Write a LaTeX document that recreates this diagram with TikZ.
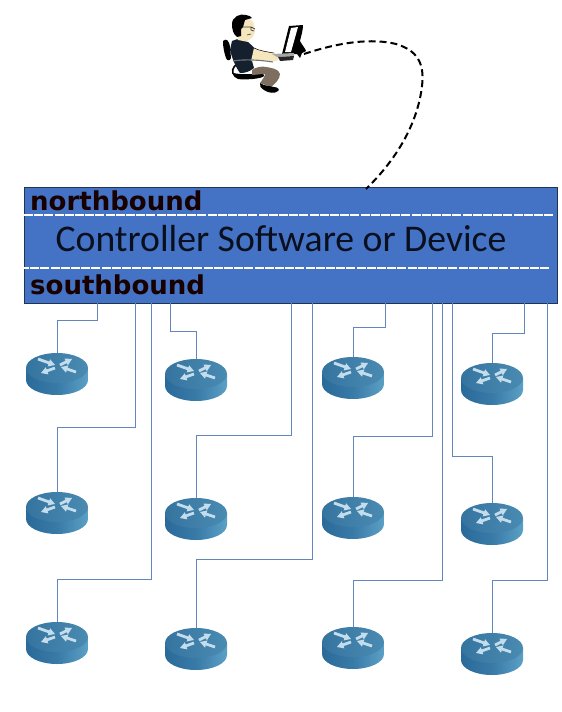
\documentclass[tikz,border=0pt]{standalone}
\usepackage{fontspec}
\setmainfont{Carlito}
\newfontfamily\labelfont{DejaVu Sans}
\usetikzlibrary{calc}
\definecolor{ctrlblue}{HTML}{4472C4}
\definecolor{ctrledge}{HTML}{1F3552}
\definecolor{linkblue}{HTML}{6386BC}
\definecolor{titleink}{HTML}{0A0F1E}
\definecolor{rtopL}{HTML}{35749F}
\definecolor{rtopR}{HTML}{4A8BB2}
\definecolor{rsideL}{HTML}{2A6A9A}
\definecolor{rsideR}{HTML}{5BA0C6}
\definecolor{rarrow}{HTML}{C4DDEC}
\definecolor{skin}{HTML}{F5E6BE}
\definecolor{shirt}{HTML}{14202E}
\definecolor{trousers}{HTML}{7D6E60}
\tikzset{
  x=1pt,y=-1pt,
  link/.style={draw=linkblue,line width=0.9pt},
  routerbox/.style={minimum width=62pt,minimum height=42pt,inner sep=0pt,outer sep=0pt},
  northlabel/.style={font=\labelfont\bfseries\fontsize{26}{28}\selectfont,text=black!90!red,inner sep=0pt,anchor=base west},
  sepline/.style={draw=white,line width=1.3pt,dash pattern=on 9pt off 1.2pt},
}
% One arrow on a router's top face, from tail to head
\newcommand{\facearrow}[4]{%
  \coordinate (t) at (#1,#2);
  \coordinate (h) at (#3,#4);
  \coordinate (n) at ($(h)!6.5pt!(t)$);
  \fill[rarrow] ($(t)!1.4pt!90:(h)$) -- ($(n)!1.4pt!-90:(t)$) -- ($(n)!3.8pt!-90:(t)$) -- (h)
    -- ($(n)!3.8pt!90:(t)$) -- ($(n)!1.4pt!90:(t)$) -- ($(t)!1.4pt!-90:(h)$) -- cycle;
}
% A router: a flat cylinder with four arrows on its top face
\newcommand{\routerat}[3]{%
  \node[routerbox] (#1) at (#2,#3) {};
  \begin{scope}[shift={(#2,#3)}]
    \path[left color=rsideL,right color=rsideR,middle color=rsideL!70!rsideR]
      (-31,-6) -- (-31,6) arc[start angle=180,end angle=0,x radius=31,y radius=15] -- (31,-6) -- cycle;
    \path[left color=rtopL,right color=rtopR] (0,-6) ellipse[x radius=31,y radius=15];
    \begin{scope}[shift={(0,-6)}]
      \facearrow{-19}{-9}{-2}{-3}
      \facearrow{3}{-3}{15}{-9}
      \facearrow{-2}{0}{-16}{5}
      \facearrow{19}{4}{4}{-1}
    \end{scope}
  \end{scope}
}
\begin{document}
\begin{tikzpicture}
\useasboundingbox (0,0) rectangle (562,712);

% controller
\node[draw=ctrledge,fill=ctrlblue,line width=0.8pt,minimum width=533pt,minimum height=116pt,inner sep=0pt,outer sep=0pt] (ctrl) at (290.5,245) {};
\node[font=\fontsize{37.7}{40}\selectfont,text=titleink,inner sep=0pt] (title) at (281,239) {Controller Software or Device};
\coordinate (nbL) at (24,215);
\coordinate (nbR) at (553,215);
\coordinate (sbL) at (20,268);
\coordinate (sbR) at (549,268);
\draw[sepline] (nbL) -- (nbR);
\draw[sepline] (sbL) -- (sbR);
\node[northlabel] (nb) at (30,210) {northbound};
\node[northlabel] (sb) at (30,294) {southbound};

% routers
\routerat{ra}{57}{374}
\routerat{rb}{196}{380}
\routerat{rc}{353}{378}
\routerat{rd}{492}{384}
\routerat{re}{57}{513}
\routerat{rf}{196}{519}
\routerat{rg}{353}{518}
\routerat{rh}{492}{524}
\routerat{ri}{57}{643}
\routerat{rj}{196}{649}
\routerat{rk}{353}{648}
\routerat{rl}{492}{654}

% controller-to-router links
\foreach \px/\py/\rt in {97/320/ra,135/427/re,151/579/ri,170/331/rb,291/435/rf,312/559/rj,385/327/rc,432/436/rg,442/580/rk,524/333/rd,452/456/rh,547/580/rl}{
  \draw[link] (\px,0 |- ctrl.south) -- (\px,\py) -| (\rt.north);
}

% operator at a laptop
\begin{scope}
  % chair back
  \fill[black] (223,41) .. controls (226,38) and (229,40) .. (230,47) -- (231,58) .. controls (230,61) and (227,61) .. (226,58) .. controls (224,52) and (223,47) .. (223,41) -- cycle;
  % chair frame and seat
  \draw[black,line width=1.6pt] (238,64) .. controls (232,66) and (231,73) .. (235,76);
  \fill[black] (233,73) .. controls (242,75) and (255,74) .. (263,73) -- (264,76) .. controls (262,79) and (244,80) .. (238,79) .. controls (235,78) and (233,76) .. (233,73) -- cycle;
  % torso
  \fill[shirt] (232,41) .. controls (238,38) and (243,39) .. (247,41) .. controls (250,44) and (254,47) .. (256,50) -- (252,61) -- (254,68) .. controls (249,72) and (245,73) .. (240,73) .. controls (236,68) and (232,58) .. (230,50) -- cycle;
  % leg
  \fill[trousers] (252,70) .. controls (256,67) and (262,66) .. (266,67) .. controls (272,68) and (279,69) .. (280,74) .. controls (280,79) and (275,84) .. (271,87) -- (260,83) .. controls (263,79) and (265,76) .. (265,74) .. controls (260,74) and (255,75) .. (252,75) -- cycle;
  % shoe
  \fill[black] (260,83) .. controls (264,86) and (270,86) .. (274,87) .. controls (278,87) and (280,90) .. (278,91) .. controls (275,94) and (268,93) .. (264,90) .. controls (261,88) and (259,86) .. (260,83) -- cycle;
  % arm
  \fill[skin] (254,48) .. controls (260,51) and (268,52) .. (274,53) -- (279,57) -- (277,61) -- (272,61) .. controls (265,60) and (257,61) .. (251,61) -- cycle;
  \draw[black,line width=0.5pt] (254,48) .. controls (260,51) and (268,52) .. (274,53);
  % armrest
  \draw[black!55,line width=1.1pt] (233,61) .. controls (245,59) and (260,60) .. (273,62);
  % head and hair
  \fill[skin] (243,19) .. controls (248,17) and (253,20) .. (254,24) -- (255,31) .. controls (254,36) and (252,39) .. (248,40) -- (248,42) -- (238,40) -- (238,30) -- cycle;
  \fill[black] (232,24) .. controls (232,17) and (240,13) .. (246,15) .. controls (249,15) and (251,17) .. (252,18) -- (245,20) -- (243,27) -- (241,29) -- (241,36) -- (237,37) .. controls (233,34) and (232,29) .. (232,24) -- cycle;
  \draw[black!75,line width=0.7pt] (243,27) -- (251,27) -- (255,29) (251,27) -- (251,30) -- (254,31);
  \draw[black!80,line width=0.6pt] (247,35) -- (251,34);
  % laptop: lid with its dark rear wedge, base and keyboard
  \fill[black] (303,25) .. controls (303,31) and (301,36) .. (300,41) .. controls (302,45) and (305,48) .. (306,51) -- (302,53) -- (300,58) -- (297,54) -- (282,54) -- (289,26) -- cycle;
  \fill[white] (291,28) -- (298,27) -- (291,52) -- (285,52) -- cycle;
  \fill[black!35] (272,54) -- (294,53) -- (294,56) -- (277,57) -- cycle;
  \fill[black!85] (278,57) -- (294,56) -- (293,60) -- (280,61) -- cycle;
\end{scope}
\coordinate (userport) at (304,54);

% management link from the operator to the controller
\draw[black,line width=2pt,dash pattern=on 7pt off 4pt] (userport) .. controls (340,42) and (372,38) .. (396,44)
  .. controls (416,50) and (425,62) .. (422,86)
  .. controls (418,120) and (400,156) .. (366,189);

\end{tikzpicture}
\end{document}
